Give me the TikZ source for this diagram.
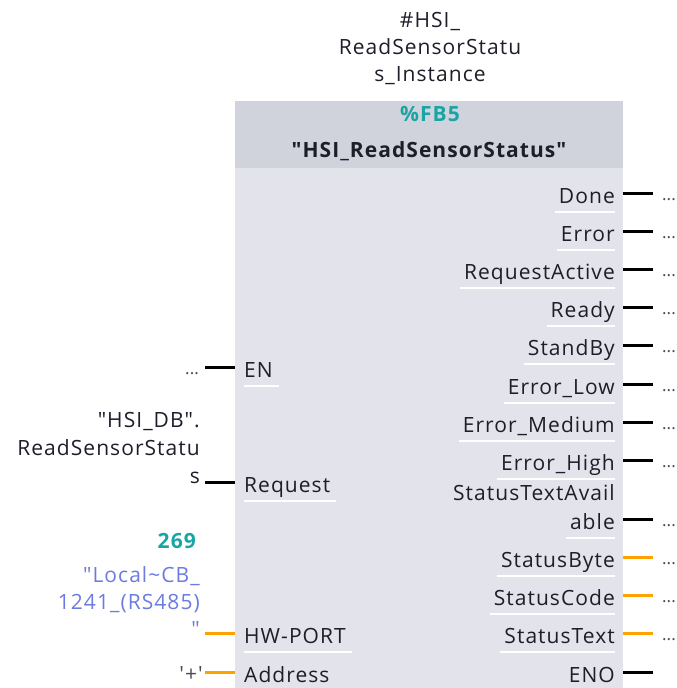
\documentclass[tikz,border=0pt]{standalone}
\usepackage{fontspec}
\newfontfamily\uifont{Open Sans}[LetterSpace=5]
\newfontfamily\dotfont{Open Sans}
\definecolor{headfill}{HTML}{D0D2DC}
\definecolor{bodyfill}{HTML}{E2E3EB}
\definecolor{txt}{HTML}{1E1E2A}
\definecolor{fbteal}{HTML}{1AA5A5}
\definecolor{wireorange}{HTML}{FFA200}
\definecolor{symblue}{HTML}{6B7BE0}
\definecolor{dotgray}{HTML}{4A4A5A}
\newcommand\trail{...}
\tikzset{
  lbl/.style={font=\uifont\fontsize{21}{27}\selectfont, text=txt, inner sep=0pt},
  outlbl/.style={lbl, anchor=base east},
  inlbl/.style={lbl, anchor=base west},
  boolwire/.style={line width=3pt, black},
  bytewire/.style={line width=3pt, wireorange},
  sepline/.style={white, line width=1.4pt},
  dots/.style={font=\dotfont\fontsize{17}{20}\selectfont, text=dotgray, inner sep=0pt},
}
\begin{document}
\begin{tikzpicture}[x=1pt,y=-1pt]
\useasboundingbox (0,0) rectangle (677,688);

% instance name above the block
\node[lbl, align=center, anchor=north] (inst) at (430,12)
  {\#HSI\_\\ReadSensorStatu\\s\_Instance};

% block body and header
\node[fill=bodyfill, minimum width=388pt, minimum height=587pt,
      anchor=north west, inner sep=0pt] (body) at (235,101) {};
\node[fill=headfill, minimum width=388pt, minimum height=67pt,
      anchor=north west, inner sep=0pt] (head) at (235,101) {};
\node[lbl, font=\uifont\bfseries\fontsize{21}{27}\selectfont, text=fbteal,
      anchor=base] (fbnum) at (430,121) {\%FB5};
\node[lbl, font=\uifont\bfseries\fontsize{21}{27}\selectfont,
      anchor=base] (fbname) at (429,157) {"HSI\_ReadSensorStatus"};

% outputs: name / wire y / label / wire style / trailing dots
\foreach \n/\y/\t/\w/\d in {
    done/193/Done/boolwire/\trail,
    error/231/Error/boolwire/\trail,
    reqact/269/RequestActive/boolwire/\trail,
    ready/307/Ready/boolwire/\trail,
    standby/345/StandBy/boolwire/\trail,
    errlow/384/Error\_Low/boolwire/\trail,
    errmed/422/Error\_Medium/boolwire/\trail,
    errhigh/460/Error\_High/boolwire/\trail,
    stxav/519/able/boolwire/\trail,
    sbyte/557/StatusByte/bytewire/\trail,
    scode/595/StatusCode/bytewire/\trail,
    stext/633/StatusText/bytewire/\trail,
    eno/672/ENO/boolwire/{}} {
  \coordinate (p-\n) at (body.east |- 0,\y);
  \coordinate (e-\n) at (653,\y);
  \node[outlbl] (l-\n) at (615,\y+10) {\t};
  \draw[sepline] ([shift={(-4,9)}]l-\n.base west) -- ([shift={(0,9)}]l-\n.base east);
  \draw[\w] (p-\n) -- (e-\n);
  \node[dots, anchor=base west] (d-\n) at (662,\y+7) {\d};
}
\node[outlbl] (l-stxav1) at (615,500) {StatusTextAvail};

% inputs
\foreach \n/\y/\t/\w in {
    en/367/EN/boolwire,
    req/482/Request/boolwire,
    hwport/633/HW-PORT/bytewire,
    addr/672/Address/bytewire} {
  \coordinate (p-\n) at (body.west |- 0,\y);
  \coordinate (s-\n) at (205,\y);
  \node[inlbl] (l-\n) at (244,\y+10) {\t};
  \draw[\w] (s-\n) -- (p-\n);
}
\foreach \n in {en,req,hwport}
  \draw[sepline] ([shift={(0,9)}]l-\n.base west) -- ([shift={(6,9)}]l-\n.base east);

% actual parameters on the inputs
\node[dots, anchor=base east] (a-en) at (199,374) {\trail};
\node[lbl, font=\uifont\fontsize{21}{28}\selectfont, align=right,
      anchor=north east] (a-req) at (200,412)
  {"HSI\_DB".\\ReadSensorStatu\\s};
\node[lbl, font=\uifont\bfseries\fontsize{21}{27}\selectfont, text=fbteal,
      anchor=base east] (a-hwnum) at (196,548) {269};
\node[lbl, text=symblue, align=right, anchor=north east] (a-hw) at (200,566)
  {"Local\textasciitilde CB\_\\1241\_(RS485)\\"};
\node[lbl, text=dotgray, anchor=base east] (a-addr) at (203,681) {'+'};
\end{tikzpicture}
\end{document}
